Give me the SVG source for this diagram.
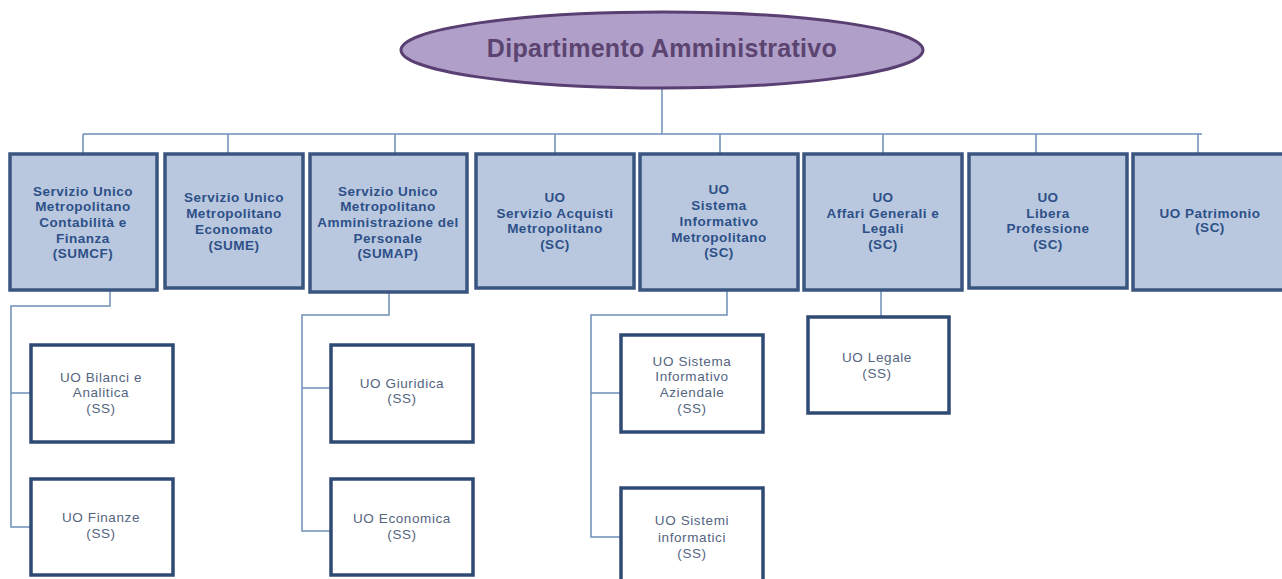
<svg xmlns="http://www.w3.org/2000/svg" width="1282" height="579" viewBox="0 0 1282 579">
<style>
.top rect{fill:#b9c8df;stroke:#3a5680;stroke-width:3.5}
.top text{font-family:"Liberation Sans",Arial,sans-serif;font-weight:bold;font-size:13.5px;letter-spacing:0.5px;fill:#2e5088;text-anchor:middle}
.sub rect{fill:#ffffff;stroke:#2f4b73;stroke-width:3.5}
.sub text{font-family:"Liberation Sans",Arial,sans-serif;font-size:13.5px;letter-spacing:0.6px;fill:#54657f;text-anchor:middle}
#connectors path{fill:none;stroke:#6f8fb8;stroke-width:1.5}
</style>
<rect width="1282" height="579" fill="#ffffff"/>
<g id="connectors">
<path d="M662,89 V134 M83,134 H1202"/>
<path d="M83,134 V153 M228,134 V153 M395,134 V153 M555,134 V153 M720,134 V153 M883,134 V153 M1036,134 V153 M1198,134 V153"/>
<path d="M110,290 V306 H11 V527 H31 M11,393 H31"/>
<path d="M389,292 V315 H302 V531 H331 M302,388 H331"/>
<path d="M727,290 V315 H591 V537 H621 M591,393 H621"/>
<path d="M881,290 V317"/>
</g>
<g id="root">
<ellipse cx="662" cy="50" rx="261" ry="38" fill="#b09fc8" stroke="#5a3f72" stroke-width="3"/>
<text x="662" y="57" font-family="'Liberation Sans',Arial,sans-serif" font-weight="bold" font-size="25" letter-spacing="0.3" fill="#5b4470" text-anchor="middle">Dipartimento Amministrativo</text>
</g>
<g id="n1" class="top"><rect x="10" y="154" width="147" height="136"/>
<text x="83"><tspan x="83" y="196">Servizio Unico</tspan><tspan x="83" y="211">Metropolitano</tspan><tspan x="83" y="227">Contabilità e</tspan><tspan x="83" y="243">Finanza</tspan><tspan x="83" y="258">(SUMCF)</tspan></text></g>
<g id="n2" class="top"><rect x="165" y="154" width="138" height="134"/>
<text x="234"><tspan x="234" y="202">Servizio Unico</tspan><tspan x="234" y="218">Metropolitano</tspan><tspan x="234" y="234">Economato</tspan><tspan x="234" y="250">(SUME)</tspan></text></g>
<g id="n3" class="top"><rect x="310" y="154" width="157" height="138"/>
<text x="388"><tspan x="388" y="196">Servizio Unico</tspan><tspan x="388" y="211">Metropolitano</tspan><tspan x="388" y="227">Amministrazione del</tspan><tspan x="388" y="243">Personale</tspan><tspan x="388" y="258">(SUMAP)</tspan></text></g>
<g id="n4" class="top"><rect x="476" y="154" width="158" height="134"/>
<text x="555"><tspan x="555" y="202">UO</tspan><tspan x="555" y="218">Servizio Acquisti</tspan><tspan x="555" y="233">Metropolitano</tspan><tspan x="555" y="249">(SC)</tspan></text></g>
<g id="n5" class="top"><rect x="640" y="154" width="158" height="136"/>
<text x="719"><tspan x="719" y="194">UO</tspan><tspan x="719" y="210">Sistema</tspan><tspan x="719" y="226">Informativo</tspan><tspan x="719" y="242">Metropolitano</tspan><tspan x="719" y="257">(SC)</tspan></text></g>
<g id="n6" class="top"><rect x="804" y="154" width="158" height="136"/>
<text x="883"><tspan x="883" y="202">UO</tspan><tspan x="883" y="218">Affari Generali e</tspan><tspan x="883" y="233">Legali</tspan><tspan x="883" y="249">(SC)</tspan></text></g>
<g id="n7" class="top"><rect x="969" y="154" width="158" height="134"/>
<text x="1048"><tspan x="1048" y="202">UO</tspan><tspan x="1048" y="218">Libera</tspan><tspan x="1048" y="233">Professione</tspan><tspan x="1048" y="249">(SC)</tspan></text></g>
<g id="n8" class="top"><rect x="1133" y="154" width="155" height="136"/>
<text x="1210"><tspan x="1210" y="218">UO Patrimonio</tspan><tspan x="1210" y="232">(SC)</tspan></text></g>
<g id="s1" class="sub"><rect x="31" y="345" width="142" height="97"/>
<text x="101"><tspan x="101" y="382">UO Bilanci e</tspan><tspan x="101" y="397">Analitica</tspan><tspan x="101" y="413">(SS)</tspan></text></g>
<g id="s2" class="sub"><rect x="31" y="479" width="142" height="96"/>
<text x="101"><tspan x="101" y="522">UO Finanze</tspan><tspan x="101" y="538">(SS)</tspan></text></g>
<g id="s3" class="sub"><rect x="331" y="345" width="142" height="97"/>
<text x="402"><tspan x="402" y="388">UO Giuridica</tspan><tspan x="402" y="403">(SS)</tspan></text></g>
<g id="s4" class="sub"><rect x="331" y="479" width="142" height="96"/>
<text x="402"><tspan x="402" y="523">UO Economica</tspan><tspan x="402" y="539">(SS)</tspan></text></g>
<g id="s5" class="sub"><rect x="621" y="335" width="142" height="97"/>
<text x="692"><tspan x="692" y="366">UO Sistema</tspan><tspan x="692" y="381">Informativo</tspan><tspan x="692" y="397">Aziendale</tspan><tspan x="692" y="413">(SS)</tspan></text></g>
<g id="s6" class="sub"><rect x="621" y="488" width="142" height="110"/>
<text x="692"><tspan x="692" y="525">UO Sistemi</tspan><tspan x="692" y="542">informatici</tspan><tspan x="692" y="558">(SS)</tspan></text></g>
<g id="s7" class="sub"><rect x="808" y="317" width="141" height="96"/>
<text x="877"><tspan x="877" y="362">UO Legale</tspan><tspan x="877" y="378">(SS)</tspan></text></g>
</svg>
